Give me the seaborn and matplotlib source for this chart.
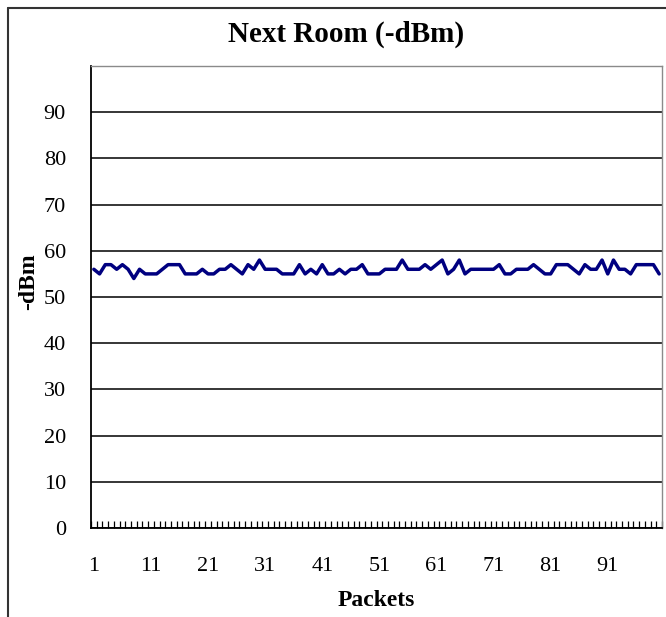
import matplotlib
matplotlib.use("Agg")
import matplotlib.pyplot as plt
import seaborn as sns
import pandas as pd
import numpy as np
from matplotlib.lines import Line2D
from matplotlib.ticker import FixedLocator

packets = list(range(1, 101))
dbm = [56, 55, 57, 57, 56, 57, 56, 54, 56, 55,
       55, 55, 56, 57, 57, 57, 55, 55, 55, 56,
       55, 55, 56, 56, 57, 56, 55, 57, 56, 58,
       56, 56, 56, 55, 55, 55, 57, 55, 56, 55,
       57, 55, 55, 56, 55, 56, 56, 57, 55, 55,
       55, 56, 56, 56, 58, 56, 56, 56, 57, 56,
       57, 58, 55, 56, 58, 55, 56, 56, 56, 56,
       56, 57, 55, 55, 56, 56, 56, 57, 56, 55,
       55, 57, 57, 57, 56, 55, 57, 56, 56, 58,
       55, 58, 56, 56, 55, 57, 57, 57, 57, 55]
x_tick_labels = ["1", "11", "21", "31", "41", "51", "61", "71", "81", "91"]
y_ticks = [0, 10, 20, 30, 40, 50, 60, 70, 80, 90]
title = "Next Room (-dBm)"
x_label = "Packets"
y_label = "-dBm"

sns.set_style("white")
plt.rcParams['font.family'] = ['Liberation Serif', 'DejaVu Serif']
plt.rcParams['text.color'] = 'black'
plt.rcParams['axes.labelcolor'] = 'black'
plt.rcParams['xtick.color'] = 'black'
plt.rcParams['ytick.color'] = 'black'

W, H = 666, 617
fig = plt.figure(figsize=(W / 100, H / 100), dpi=100)
L, R, T, B = 91, 662, 66, 528
ax = fig.add_axes([L / W, 1 - B / H, (R - L) / W, (B - T) / H])

df = pd.DataFrame({"Packets": packets, "dBm": dbm})
sns.lineplot(data=df, x="Packets", y="dBm", ax=ax, color="#000080", linewidth=2.5)

ax.set_xlim(0.5, 100.5)
ax.set_ylim(0, 100)
ax.set_yticks(y_ticks)
ax.set_yticklabels([str(v) for v in y_ticks], fontsize=16)
ax.set_xticks([int(s) for s in x_tick_labels])
ax.set_xticklabels(x_tick_labels, fontsize=16)
ax.xaxis.set_minor_locator(FixedLocator(np.arange(0.5, 101, 1)))
ax.tick_params(axis="x", which="both", bottom=True)
ax.tick_params(axis="x", which="major", length=0, pad=21)
ax.tick_params(axis="x", which="minor", length=5, direction="in", width=0.9, color="black")
ax.tick_params(axis="y", which="major", length=0, pad=18)

ax.yaxis.grid(True, color="black", linewidth=1.1)
ax.xaxis.grid(False)
ax.set_axisbelow(True)

for side in ["top", "right"]:
    ax.spines[side].set_color("#8a8a8a")
    ax.spines[side].set_linewidth(1.0)
for side in ["left", "bottom"]:
    ax.spines[side].set_color("black")
    ax.spines[side].set_linewidth(1.3)

ax.set_xlabel(x_label, fontsize=17, fontweight="bold", labelpad=10)
ax.set_ylabel(y_label, fontsize=17, fontweight="bold")
ax.yaxis.label.set_va("center")
ax.yaxis.set_label_coords((29 - L) / (R - L), (B - 282) / (B - T))

ax.set_title(title, fontsize=21, fontweight="bold", x=(346 - L) / (R - L), y=(B - 43) / (B - T), va="center")

# outer chart frame (top and left edges visible)
fig.add_artist(Line2D([8 / W, 1.0], [1 - 8 / H, 1 - 8 / H], transform=fig.transFigure, color="#333333", linewidth=1.5))
fig.add_artist(Line2D([8 / W, 8 / W], [0.0, 1 - 8 / H], transform=fig.transFigure, color="#333333", linewidth=1.5))

fig.savefig("out.png", dpi=100, facecolor="white")
